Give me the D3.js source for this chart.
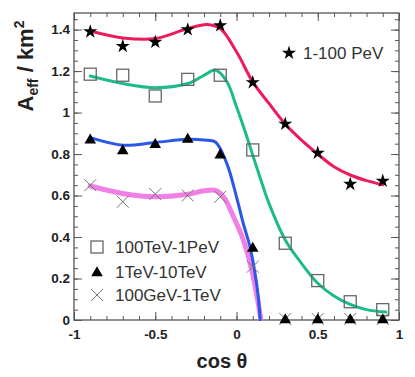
<!DOCTYPE html>
<html>
<head>
<meta charset="utf-8">
<script src="https://cdn.jsdelivr.net/npm/d3@7"></script>
<style>
  body { margin: 0; background: #fff; }
  text { font-family: "Liberation Sans", Arial, sans-serif; }
</style>
</head>
<body>
<div id="chart"></div>
<script>
// measured points (cos theta bins)
const cosTheta = [-0.9, -0.7, -0.5, -0.3, -0.1, 0.1, 0.3, 0.5, 0.7, 0.9];
const pev = [1.39, 1.32, 1.34, 1.40, 1.42, 1.145, 0.945, 0.805, 0.655, 0.67];
const tevPev = [1.185, 1.18, 1.08, 1.16, 1.18, 0.82, 0.37, 0.19, 0.088, 0.05];
const tev = [0.872, 0.82, 0.85, 0.875, 0.80, 0.35, 0.005, 0.005, 0.005, 0.005];
const gev = [0.65, 0.57, 0.607, 0.60, 0.594, 0.257, 0.005, 0.005, 0.005, 0.005];

// fitted curves
const redX = [-0.9, -0.7, -0.5, -0.3, -0.18, -0.1, 0, 0.1, 0.2, 0.3, 0.4, 0.5, 0.6, 0.7, 0.8, 0.9];
const redY = [1.393, 1.36, 1.357, 1.405, 1.425, 1.405, 1.293, 1.148, 1.044, 0.945, 0.867, 0.80, 0.739, 0.699, 0.672, 0.652];
const greenX = [-0.9, -0.7, -0.5, -0.3, -0.2, -0.13, -0.06, 0, 0.05, 0.1, 0.15, 0.2, 0.3, 0.4, 0.5, 0.6, 0.7, 0.8, 0.92];
const greenY = [1.176, 1.14, 1.12, 1.14, 1.18, 1.205, 1.15, 1.028, 0.916, 0.795, 0.675, 0.562, 0.386, 0.273, 0.177, 0.116, 0.075, 0.05, 0.038];
const blueX = [-0.9, -0.7, -0.5, -0.3, -0.2, -0.13, -0.06, 0, 0.04, 0.083, 0.115, 0.134, 0.146];
const blueY = [0.879, 0.843, 0.856, 0.871, 0.868, 0.858, 0.755, 0.594, 0.47, 0.353, 0.22, 0.112, 0];
const pinkX = [-0.9, -0.7, -0.5, -0.3, -0.2, -0.13, -0.08, -0.02, 0.042, 0.094, 0.134, 0.15];
const pinkY = [0.646, 0.61, 0.594, 0.606, 0.623, 0.625, 0.594, 0.50, 0.386, 0.241, 0.08, 0];

const xTicks = [-1, -0.5, 0, 0.5, 1];
const yTicks = [0, 0.2, 0.4, 0.6, 0.8, 1, 1.2, 1.4];

const W = 415, H = 377;
const margin = { top: 13, right: 16, bottom: 57, left: 74 };
const width = W - margin.left - margin.right;
const height = H - margin.top - margin.bottom;

const svg = d3.select("#chart").append("svg")
    .attr("width", W)
    .attr("height", H);
const g = svg.append("g")
    .attr("transform", `translate(${margin.left},${margin.top})`);

const x = d3.scaleLinear().domain([-1, 1]).range([0, width]);
const y = d3.scaleLinear().domain([0, 1.48]).range([height, 0]);

const axisColor = "#555";

// tick marks pointing inward on all four sides
const minorX = d3.range(-1, 1.001, 0.1).map(v => +v.toFixed(2));
const minorY = d3.range(0, 1.47, 0.05).map(v => +v.toFixed(2));
function tickLayer(axis, tr) {
    const a = g.append("g").attr("transform", tr).call(axis);
    a.select(".domain").remove();
    a.selectAll("line").attr("stroke", axisColor).attr("stroke-width", 1);
    a.selectAll("text").remove();
}
tickLayer(d3.axisBottom(x).tickValues(minorX).tickSize(-4), `translate(0,${height})`);
tickLayer(d3.axisBottom(x).tickValues(xTicks).tickSize(-8), `translate(0,${height})`);
tickLayer(d3.axisTop(x).tickValues(minorX).tickSize(-4), "translate(0,0)");
tickLayer(d3.axisTop(x).tickValues(xTicks).tickSize(-8), "translate(0,0)");
tickLayer(d3.axisLeft(y).tickValues(minorY).tickSize(-4), "translate(0,0)");
tickLayer(d3.axisLeft(y).tickValues(yTicks).tickSize(-8), "translate(0,0)");
tickLayer(d3.axisRight(y).tickValues(minorY).tickSize(-4), `translate(${width},0)`);
tickLayer(d3.axisRight(y).tickValues(yTicks).tickSize(-8), `translate(${width},0)`);

// tick labels
const xl = g.append("g").attr("transform", `translate(0,${height})`)
    .call(d3.axisBottom(x).tickValues(xTicks).tickSize(0).tickPadding(9).tickFormat(d => String(d)));
const yl = g.append("g")
    .call(d3.axisLeft(y).tickValues(yTicks).tickSize(0).tickPadding(4).tickFormat(d => String(d)));
[xl, yl].forEach(a => {
    a.select(".domain").remove();
    a.selectAll("text")
        .style("font-family", "'Liberation Sans', Arial, sans-serif")
        .style("font-size", "13.5px")
        .style("font-weight", "bold")
        .attr("fill", "#222");
});

// frame
g.append("rect")
    .attr("width", width)
    .attr("height", height)
    .attr("fill", "none")
    .attr("stroke", axisColor)
    .attr("stroke-width", 1.3);

// curves
g.append("clipPath").attr("id", "clip")
    .append("rect").attr("width", width).attr("height", height + 1);

const line = d3.line()
    .x(d => x(d[0]))
    .y(d => y(d[1]))
    .curve(d3.curveCatmullRom.alpha(0.5));

const curves = [
    { xs: pinkX, ys: pinkY, color: "#f07fe6", w: 5 },
    { xs: blueX, ys: blueY, color: "#2b57e8", w: 3 },
    { xs: greenX, ys: greenY, color: "#1cbb8b", w: 3 },
    { xs: redX, ys: redY, color: "#ee1b5c", w: 3 }
];
curves.forEach(c => {
    g.append("path")
        .datum(c.xs.map((v, i) => [v, c.ys[i]]))
        .attr("clip-path", "url(#clip)")
        .attr("fill", "none")
        .attr("stroke", c.color)
        .attr("stroke-width", c.w)
        .attr("stroke-linecap", "round")
        .attr("d", line);
});

// markers
const star = d3.symbol().type(d3.symbolStar).size(62);
const tri = d3.symbol().type(d3.symbolTriangle).size(58);

function drawSquare(sel, cx, cy) {
    sel.append("rect")
        .attr("x", cx - 6).attr("y", cy - 6)
        .attr("width", 12).attr("height", 12)
        .attr("fill", "none")
        .attr("stroke", "#666")
        .attr("stroke-width", 1.3);
}
function drawCross(sel, cx, cy) {
    const r = 6;
    sel.append("path")
        .attr("d", `M${cx - r},${cy - r}L${cx + r},${cy + r}M${cx - r},${cy + r}L${cx + r},${cy - r}`)
        .attr("stroke", "#777")
        .attr("stroke-width", 1)
        .attr("fill", "none");
}

const marks = g.append("g");
cosTheta.forEach((c, i) => drawCross(marks, x(c), y(gev[i])));
cosTheta.forEach((c, i) => drawSquare(marks, x(c), y(tevPev[i])));
marks.selectAll(".tri")
    .data(cosTheta.map((c, i) => [c, tev[i]]))
    .enter().append("path")
    .attr("transform", d => `translate(${x(d[0])},${y(d[1]) + 1})`)
    .attr("d", tri)
    .attr("fill", "#000");
marks.selectAll(".star")
    .data(cosTheta.map((c, i) => [c, pev[i]]))
    .enter().append("path")
    .attr("transform", d => `translate(${x(d[0])},${y(d[1])})`)
    .attr("d", star)
    .attr("fill", "#000");

// legends
const legFont = "17px";
const starLeg = g.append("g").attr("transform", "translate(215,40)");
starLeg.append("path").attr("d", star).attr("fill", "#000");
starLeg.append("text").attr("x", 14).attr("y", 6).text("1-100 PeV")
    .style("font-size", legFont).attr("fill", "#333");

const leg = g.append("g");
const legItems = ["100TeV-1PeV", "1TeV-10TeV", "100GeV-1TeV"];
const legY = [234, 259, 282];
drawSquare(leg, 23, legY[0]);
leg.append("path").attr("transform", `translate(23,${legY[1] + 1})`).attr("d", tri).attr("fill", "#000");
drawCross(leg, 23, legY[2]);
legItems.forEach((t, i) => {
    leg.append("text").attr("x", 41).attr("y", legY[i] + 6).text(t)
        .style("font-size", legFont).attr("fill", "#333");
});

// axis titles
svg.append("text")
    .attr("x", 222).attr("y", 368)
    .attr("text-anchor", "middle")
    .style("font-size", "20px").style("font-weight", "bold")
    .attr("fill", "#222")
    .text("cos θ");

const yt = svg.append("text")
    .attr("transform", "translate(33,66) rotate(-90)")
    .attr("text-anchor", "middle")
    .style("font-size", "22px").style("font-weight", "bold")
    .attr("fill", "#222");
yt.append("tspan").text("A");
yt.append("tspan").attr("dy", 5).style("font-size", "14px").text("eff");
yt.append("tspan").attr("dy", -5).text(" / km");
yt.append("tspan").attr("dy", -9).style("font-size", "14px").text("2");
</script>
</body>
</html>
